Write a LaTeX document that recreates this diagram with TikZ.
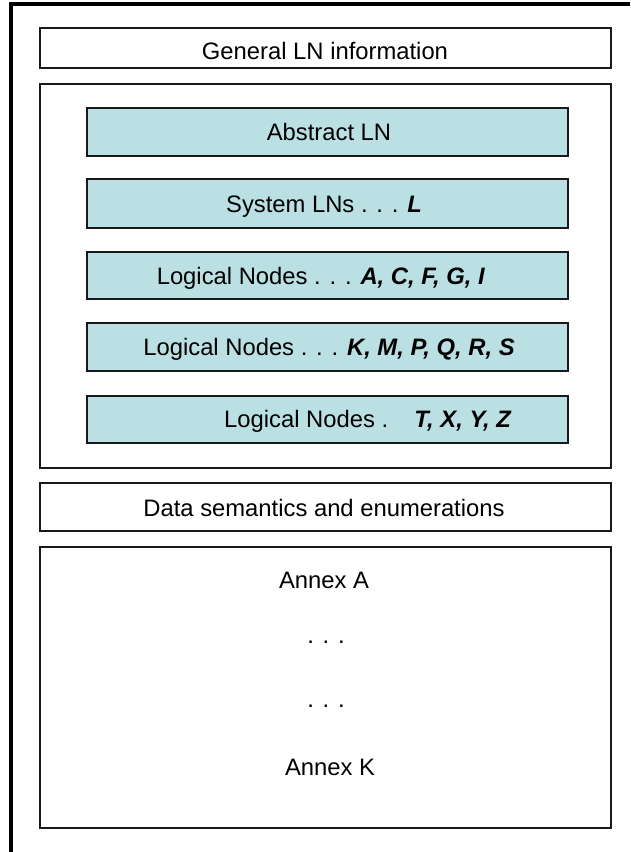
\documentclass[tikz,border=0pt]{standalone}
\usepackage{fontspec}
\setmainfont{Liberation Sans}
\definecolor{lnfill}{RGB}{186,224,227}
\definecolor{edge}{RGB}{25,25,25}
\begin{document}
\begin{tikzpicture}[x=1pt,y=-1pt,
  framebox/.style={draw=edge, line width=1.3pt, fill=white, inner sep=0pt, outer sep=0pt},
  lnbox/.style={draw=edge, line width=1.6pt, fill=lnfill, inner sep=0pt, outer sep=0pt,
                minimum width=481pt},
  label/.style={anchor=base, inner sep=0pt, font=\fontsize{23.8}{28}\selectfont}]
\newcommand{\bitext}[1]{\textbf{\textit{#1}}}
\useasboundingbox (0,0) rectangle (630,852);
\fill[white] (0,0) rectangle (630,852);

% page frame (top and left edge)
\coordinate (frameTR) at (630,4);
\coordinate (frameTL) at (11,4);
\coordinate (frameBL) at (11,852);
\draw[line width=3.5pt, line join=miter] (frameTR) -- (frameTL) -- (frameBL);

% general information
\node[framebox, minimum width=571pt, minimum height=40pt] (gen) at (325.5,48) {};
\node[label] (genT) at (325,59) {General LN information};

% logical node groups
\node[framebox, minimum width=571pt, minimum height=384pt] (groups) at (325.5,276) {};

\node[lnbox, minimum height=48pt] (abs) at (327.5,132) {};
\node[label] (absT) at (329,140.5) {Abstract LN};

\node[lnbox, minimum height=49pt] (sys) at (327.5,203.5) {};
\node[label] (sysT) at (324,212) {System LNs . . . \bitext{L}};

\node[lnbox, minimum height=47pt] (lnA) at (327.5,275.5) {};
\node[label] (lnAT) at (321,284) {Logical Nodes . . . \bitext{A, C, F, G, I}};

\node[lnbox, minimum height=48pt] (lnK) at (327.5,347) {};
\node[label] (lnKT) at (329,355) {Logical Nodes . . . \bitext{K, M, P, Q, R, S}};

\node[lnbox, minimum height=47pt] (lnT) at (327.5,419.5) {};
\node[label, anchor=base west] (lnTT) at (224,427.5) {Logical Nodes .\hspace{1.1em}\bitext{T, X, Y, Z}};

% data semantics
\node[framebox, minimum width=571pt, minimum height=48pt] (data) at (325.5,507) {};
\node[label] (dataT) at (324,516) {Data semantics and enumerations};

% annexes
\node[framebox, minimum width=571pt, minimum height=281pt] (annex) at (325.5,687.5) {};
\node[label] (annA) at (324,588) {Annex A};
\node[label] (dots1) at (326,643) {. . .};
\node[label] (dots2) at (326,707) {. . .};
\node[label] (annK) at (330,775) {Annex K};
\end{tikzpicture}
\end{document}
